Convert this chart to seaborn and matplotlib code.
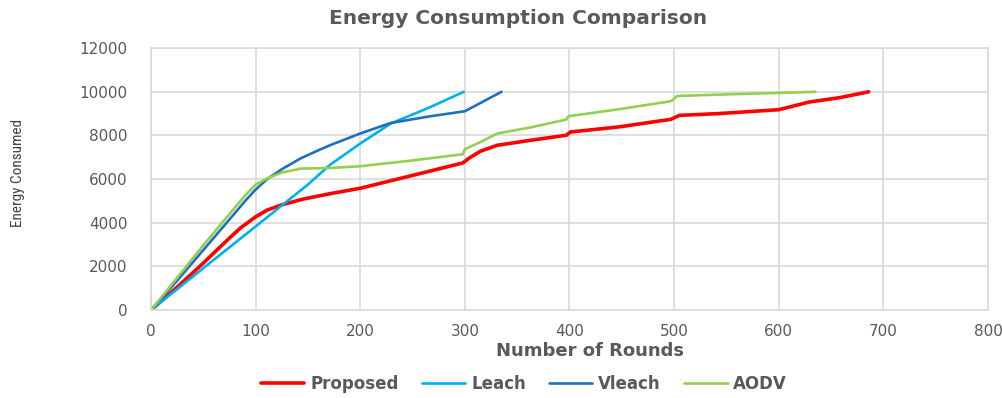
import matplotlib
matplotlib.use("Agg")
import matplotlib.pyplot as plt
import seaborn as sns
import pandas as pd

# ---- data ----
proposed_x = [0, 25, 50, 63, 75, 86, 100, 111, 125, 145, 171, 200, 250, 298, 304, 315, 331, 363, 397, 401, 447, 497, 505, 542, 600, 610, 629, 658, 686]
proposed_y = [0, 1050, 2150, 2750, 3300, 3780, 4270, 4580, 4820, 5080, 5330, 5580, 6170, 6740, 6960, 7280, 7550, 7780, 8010, 8160, 8390, 8740, 8920, 9000, 9180, 9300, 9530, 9730, 10000]

leach_x = [0, 50, 100, 150, 171, 200, 229, 267, 299]
leach_y = [0, 1920, 3830, 5750, 6650, 7630, 8540, 9300, 10000]

vleach_x = [0, 25, 50, 75, 90, 100, 111, 125, 143, 159, 171, 200, 229, 267, 300, 335]
vleach_y = [0, 1350, 2750, 4150, 5000, 5520, 6000, 6450, 6950, 7300, 7550, 8090, 8570, 8880, 9110, 10000]

aodv_x = [0, 25, 50, 75, 90, 100, 111, 125, 143, 171, 200, 251, 298, 300, 315, 331, 363, 397, 399, 447, 497, 503, 542, 600, 635]
aodv_y = [0, 1480, 2970, 4400, 5250, 5750, 6030, 6300, 6480, 6510, 6590, 6860, 7140, 7370, 7700, 8090, 8370, 8730, 8880, 9200, 9570, 9810, 9870, 9950, 10000]

series_names = ["Proposed", "Leach", "Vleach", "AODV"]
x_ticks = [0, 100, 200, 300, 400, 500, 600, 700, 800]
y_ticks = [0, 2000, 4000, 6000, 8000, 10000, 12000]

frames = []
for name, xs, ys in zip(series_names,
                        [proposed_x, leach_x, vleach_x, aodv_x],
                        [proposed_y, leach_y, vleach_y, aodv_y]):
    frames.append(pd.DataFrame({"Rounds": xs, "Energy": ys, "Series": name}))
df = pd.concat(frames, ignore_index=True)

sns.set_style("white")
plt.rcParams['font.family'] = ['DejaVu Sans']

fig = plt.figure(figsize=(10.02, 3.98), dpi=100)
ax = fig.add_axes([0.1507, 0.221, 0.8353, 0.658])

palette = {"Proposed": "#FF0000", "Leach": "#00B0F0", "Vleach": "#1F6FC0", "AODV": "#92D050"}
widths = {"Proposed": 2.6, "Leach": 1.9, "Vleach": 1.9, "AODV": 1.9}

for name in series_names:
    sub = df[df["Series"] == name]
    sns.lineplot(data=sub, x="Rounds", y="Energy", ax=ax, color=palette[name],
                 linewidth=widths[name], label=name, estimator=None, sort=False)

ax.set_xlim(0, 800)
ax.set_ylim(0, 12000)
ax.set_xticks(x_ticks)
ax.set_yticks(y_ticks)
ax.grid(True, color="#D9D9D9", linewidth=1.2)
for s in ax.spines.values():
    s.set_color("#D9D9D9")
    s.set_linewidth(1.2)
ax.tick_params(axis="both", length=0, labelsize=11, labelcolor="#595959")
ax.tick_params(axis="y", pad=17)
ax.tick_params(axis="x", pad=10)

ax.set_xlabel("")
ax.set_ylabel("")
fig.text(0.589, 0.118, "Number of Rounds", ha="center", va="center",
         fontsize=13, fontweight="bold", color="#595959")
fig.text(0.018, 0.565, "Energy Consumed", ha="center", va="center", rotation=90,
         fontsize=11, color="#404040", family=["Liberation Sans Narrow", "Roboto Condensed", "Open Sans"])
fig.text(0.517, 0.953, "Energy Consumption Comparison", ha="center", va="center",
         fontsize=14.5, fontweight="bold", color="#595959")

handles, labels = ax.get_legend_handles_labels()
if ax.legend_:
    ax.legend_.remove()
leg = fig.legend(handles, labels, loc="center", bbox_to_anchor=(0.523, 0.036), ncol=4,
                 frameon=False, handlelength=2.6, columnspacing=1.4, handletextpad=0.35,
                 prop={"size": 12, "weight": "bold"})
for t in leg.get_texts():
    t.set_color("#595959")

fig.savefig("out.png", dpi=100)
